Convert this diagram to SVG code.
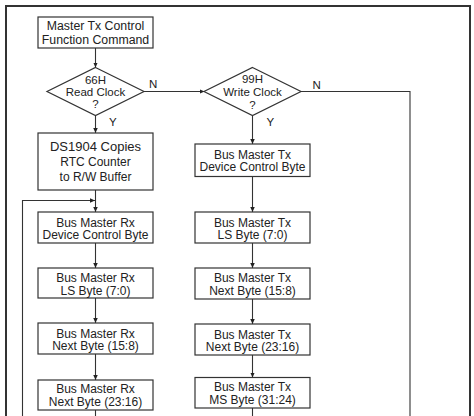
<svg xmlns="http://www.w3.org/2000/svg" width="474" height="416" viewBox="0 0 474 416">
<defs>
<marker id="ah" markerUnits="userSpaceOnUse" markerWidth="6" markerHeight="5" refX="5" refY="2.25" orient="auto">
<path d="M0,0 L5,2.25 L0,4.5 z" fill="#222"/>
</marker>
<style>
.box{fill:#fff;stroke:#333;stroke-width:1.2}
.t{font-family:"Liberation Sans",Arial,sans-serif;font-size:12px;fill:#222;text-anchor:middle}
.d{font-size:11.5px}
.big{font-size:13px}
.top{font-size:12.3px}
.c{fill:none;stroke:#333;stroke-width:1.1}
.a{marker-end:url(#ah)}
.lbl{font-family:"Liberation Sans",Arial,sans-serif;font-size:11.5px;fill:#222}
</style>
</defs>
<rect width="474" height="416" fill="#fff"/>
<path d="M6,420 V6 H470 V420" fill="none" stroke="#333" stroke-width="2"/>

<g id="connectors">
<path class="c a" d="M95.5,48 V67.5"/>
<path class="c a" d="M95.5,115.5 V133"/>
<path class="c a" d="M95.5,190 V212"/>
<path class="c a" d="M22.5,416 V200.5 H95"/>
<path class="c a" d="M95.5,243 V268"/>
<path class="c a" d="M95.5,298 V323"/>
<path class="c a" d="M95.5,354 V380"/>
<path class="c" d="M95.5,410 V416"/>
<path class="c a" d="M144,91.5 H204.5"/>
<path class="c a" d="M252.5,115.5 V144"/>
<path class="c a" d="M252.5,176.5 V212"/>
<path class="c a" d="M252.5,243 V268"/>
<path class="c a" d="M252.5,299 V324"/>
<path class="c a" d="M252.5,355 V377.5"/>
<path class="c" d="M252.5,408 V416"/>
<path class="c" d="M301,91.5 H410 V416"/>
<text class="lbl" x="149" y="87.5">N</text>
<text class="lbl" x="109" y="126">Y</text>
<text class="lbl" x="312.5" y="89">N</text>
<text class="lbl" x="266.5" y="126">Y</text>
</g>

<g id="start">
<rect class="box" x="38" y="17" width="115" height="31"/>
<text class="t top" x="95.5" y="30">Master Tx Control</text>
<text class="t top" x="95.5" y="43.5">Function Command</text>
</g>

<g id="readClock">
<polygon class="box" points="95.5,67.5 144,91.5 95.5,115.5 47,91.5"/>
<text class="t d" x="95.5" y="84">66H</text>
<text class="t d" x="95.5" y="96">Read Clock</text>
<text class="t d" x="95.5" y="108">?</text>
</g>

<g id="writeClock">
<polygon class="box" points="252.5,67.5 301,91.5 252.5,115.5 204,91.5"/>
<text class="t d" x="252.5" y="83">99H</text>
<text class="t d" x="252.5" y="96">Write Clock</text>
<text class="t d" x="252.5" y="108.5">?</text>
</g>

<g id="copy">
<rect class="box" x="38" y="133" width="115" height="57"/>
<text class="t big" x="95.5" y="150.5">DS1904 Copies</text>
<text class="t" x="95.5" y="166">RTC Counter</text>
<text class="t" x="95.5" y="181">to R/W Buffer</text>
</g>

<g id="rx1">
<rect class="box" x="38" y="212" width="115" height="31"/>
<text class="t" x="95.5" y="226.5">Bus Master Rx</text>
<text class="t" x="95.5" y="239">Device Control Byte</text>
</g>
<g id="rx2">
<rect class="box" x="38" y="268" width="115" height="30"/>
<text class="t" x="95.5" y="282">Bus Master Rx</text>
<text class="t" x="95.5" y="294.5">LS Byte (7:0)</text>
</g>
<g id="rx3">
<rect class="box" x="38" y="323" width="115" height="31"/>
<text class="t" x="95.5" y="337.5">Bus Master Rx</text>
<text class="t" x="95.5" y="350">Next Byte (15:8)</text>
</g>
<g id="rx4">
<rect class="box" x="38" y="380" width="115" height="30"/>
<text class="t" x="95.5" y="393">Bus Master Rx</text>
<text class="t" x="95.5" y="405.5">Next Byte (23:16)</text>
</g>

<g id="tx0">
<rect class="box" x="195" y="144" width="115" height="32.5"/>
<text class="t" x="252.5" y="158.5">Bus Master Tx</text>
<text class="t" x="252.5" y="171">Device Control Byte</text>
</g>
<g id="tx1">
<rect class="box" x="195" y="212" width="115" height="31"/>
<text class="t" x="252.5" y="226.5">Bus Master Tx</text>
<text class="t" x="252.5" y="239">LS Byte (7:0)</text>
</g>
<g id="tx2">
<rect class="box" x="195" y="268" width="115" height="31"/>
<text class="t" x="252.5" y="282">Bus Master Tx</text>
<text class="t" x="252.5" y="294.5">Next Byte (15:8)</text>
</g>
<g id="tx3">
<rect class="box" x="195" y="324" width="115" height="31"/>
<text class="t" x="252.5" y="338.5">Bus Master Tx</text>
<text class="t" x="252.5" y="351">Next Byte (23:16)</text>
</g>
<g id="tx4">
<rect class="box" x="195" y="377.5" width="115" height="30.5"/>
<text class="t" x="252.5" y="391">Bus Master Tx</text>
<text class="t" x="252.5" y="403.5">MS Byte (31:24)</text>
</g>
</svg>
